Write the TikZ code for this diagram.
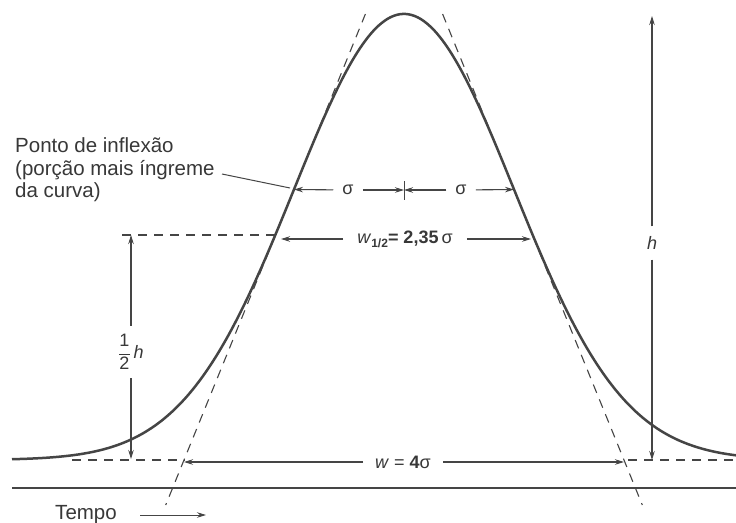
\documentclass[tikz,border=0pt]{standalone}
\usepackage{fontspec}
\setmainfont{Liberation Sans}
\usetikzlibrary{arrows.meta}
\definecolor{ink}{HTML}{454545}
\definecolor{txt}{HTML}{383838}
\begin{document}
\begin{tikzpicture}[x=1pt,y=-1pt,
  curve/.style={draw=ink, line width=2.5pt},
  dimline/.style={draw=ink, line width=1.1pt, -{Stealth[length=9pt,width=5.5pt]}},
  thinline/.style={draw=ink, line width=1pt},
  dashline/.style={draw=ink, line width=1.1pt, dash pattern=on 9pt off 7pt},
  lab/.style={text=txt, font=\fontsize{20.5}{23}\selectfont, inner sep=0pt},
  dimlab/.style={text=txt, font=\fontsize{18}{20}\selectfont, inner sep=0pt, inner xsep=9pt},
  ]
\useasboundingbox[fill=white] (0,0) rectangle (736,522);
% key points
\coordinate (inflL) at (294,189.5);
\coordinate (inflR) at (514,189.5);
\coordinate (tickT) at (404,181);
\coordinate (tickB) at (404,200);
\coordinate (tickM) at (404,190);
\coordinate (tanLT) at (365.4,14);
\coordinate (tanLB) at (165.7,505);
\coordinate (tanRT) at (442.6,14);
\coordinate (tanRB) at (642.3,505);
\coordinate (baseL1) at (72,460);
\coordinate (baseL2) at (185,460);
\coordinate (baseR1) at (628,460);
\coordinate (baseR2) at (736,460);
\coordinate (halfA) at (122,235);
\coordinate (halfB) at (275,235);
\coordinate (axisL) at (12,488);
\coordinate (axisR) at (736,488);
\coordinate (ptr) at (222,174);
\coordinate (ptrEnd) at (290,188);
% axis
\draw[thinline, line width=1.4pt] (axisL) -- (axisR);
% dashed guides
\draw[dashline] (baseL1) -- (baseL2);
\draw[dashline] (baseR1) -- (baseR2);
\draw[dashline] (halfA) -- (halfB);
\draw[dashline] (tanLT) -- (tanLB);
\draw[dashline] (tanRT) -- (tanRB);
% gaussian
\draw[curve] plot[domain=12:736, samples=240, smooth]
  (\x, {460-446*exp(-0.5*((\x-404)/110)^2)});
% inflection pointer and label
\node[lab, anchor=base west] (note1) at (15,152) {Ponto de inflexão};
\node[lab, anchor=base west] (note2) at (15,175) {(porção mais íngreme};
\node[lab, anchor=base west] (note3) at (15,197) {da curva)};
\draw[thinline] (ptr) -- (ptrEnd);
% sigma dimensions
\draw[thinline] (tickT) -- (tickB);
\node[dimlab] (s1) at (348,190) {σ};
\node[dimlab] (s2) at (461,190) {σ};
\draw[dimline] (s1) -- (inflL);
\draw[dimline] (s1) -- (tickM);
\draw[dimline] (s2) -- (tickM);
\draw[dimline] (s2) -- (inflR);
% half width
\coordinate (whL) at (281,239);
\coordinate (whR) at (531,239);
\node[dimlab, inner xsep=14pt] (wh) at (405,239) {\textit{w}\raisebox{-0.4ex}{\fontsize{12}{12}\selectfont\textbf{1/2}}\textbf{= 2,35}\,σ};
\draw[dimline] (wh) -- (whL);
\draw[dimline] (wh) -- (whR);
% base width
\coordinate (wbL) at (184,462);
\coordinate (wbR) at (624,462);
\node[dimlab, inner xsep=12pt] (wb) at (403,462) {\textit{w} = \textbf{4}σ};
\draw[dimline] (wb) -- (wbL);
\draw[dimline] (wb) -- (wbR);
% half height
\coordinate (hhT) at (131,235);
\coordinate (hhB) at (131,459);
\node[dimlab, inner xsep=0pt, inner ysep=8pt] (hh) at (131,352) {\(\displaystyle\frac{\hbox{1}}{\hbox{2}}\)\,\textit{h}};
\draw[dimline] (hh) -- (hhT);
\draw[dimline] (hh) -- (hhB);
% full height
\coordinate (hT) at (652,16);
\coordinate (hB) at (652,460);
\node[dimlab, inner xsep=0pt, inner ysep=10pt] (hl) at (652,243) {\textit{h}};
\draw[dimline] (hl) -- (hT);
\draw[dimline] (hl) -- (hB);
% time axis label
\node[lab, anchor=base] (tempo) at (86,519) {Tempo};
\coordinate (tA) at (140,515);
\coordinate (tB) at (206,515);
\draw[dimline, line width=0.9pt] (tA) -- (tB);
\end{tikzpicture}
\end{document}
